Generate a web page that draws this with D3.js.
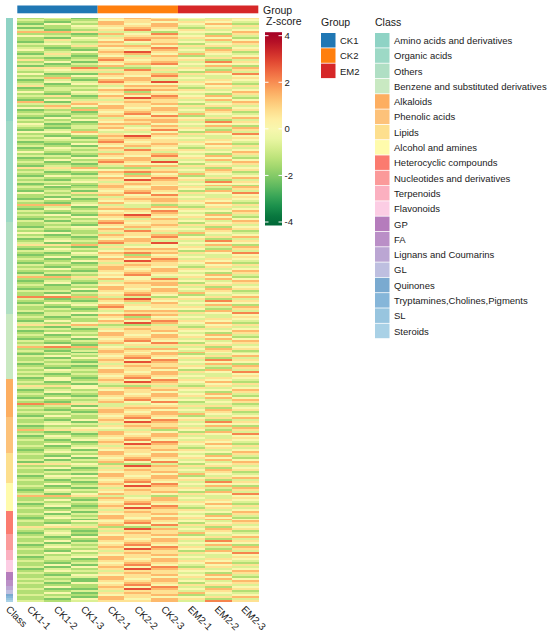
<!DOCTYPE html>
<html><head><meta charset="utf-8">
<script src="https://cdn.jsdelivr.net/npm/d3@7"></script>
<style>
body{margin:0;background:#fff;}
text{font-family:"Liberation Sans",Arial,Helvetica,sans-serif;fill:#1a1a1a;}
</style>
</head><body>
<svg id="chart" width="550" height="639"></svg>
<script>
// ---------- data ----------
const samples = ["CK1-1","CK1-2","CK1-3","CK2-1","CK2-2","CK2-3","EM2-1","EM2-2","EM2-3"];
const groups = ["CK1","CK2","EM2"];
const sampleGroup = ["CK1","CK1","CK1","CK2","CK2","CK2","EM2","EM2","EM2"];
const groupColors = ["#1f77b4","#ff7f0e","#d62728"];

const classNames = ["Amino acids and derivatives","Organic acids","Others","Benzene and substituted derivatives",
  "Alkaloids","Phenolic acids","Lipids","Alcohol and amines","Heterocyclic compounds","Nucleotides and derivatives",
  "Terpenoids","Flavonoids","GP","FA","Lignans and Coumarins","GL","Quinones","Tryptamines,Cholines,Pigments","SL","Steroids"];
const classCounts = [52,51,46,33,19,18,15,14,12,8,5,6,4,3,2,2,1,1,1,1];
const classColors = ["#8fd3c5","#9dd9c6","#b0dfc4","#c9e9c2","#fdae61","#fdc27a","#fddf8e","#fffbac",
  "#fb7b6f","#fb9a9a","#fbb0c0","#fccde4","#b57cbc","#ba8fc7","#bba6d3","#bebfe0","#7aaad0","#86b6d9","#98c5df","#a9d1e6"];

const zTicks = [4,2,0,-2,-4];

// each row: 9 digit codes (one per sample, CK1-1 ... EM2-3); code d -> z-score (d-4)*0.7
const zRows = `
231565435 322456354 213654543 142646462 324556345 123465253 312574534 665332446 221647325 432355463
214566542 253475364 132645436 343536245 225664553 312457324 421546465 234685352 152564643 331436234
212655456 523745523 241556375 313467444 122634362 557223536 345575425 233353263 411656547 224547334
362465435 131663354 243758543 314544462 522366345 133455253 232676534 424524446 213465325 351647463
222586542 143355364 615565436 336456245 264654553 452646324 126556465 231465352 322574643 213647234
142355456 324566523
231456375 412664444 323536362 213645536 132457425 446334263 224546547 312685334 241564435 333655354
122745543 214556462 321465345 143634253 232575534 423353446 212656325 331547463 124465542 242663364
313758436 221544245 132366553 556223324 234455465 312676352 221524643 143465234 322647456 213586523
334355375 122565444 241654362 312646536 223556425 131465263 425574547 232647334 213355435 141566354
322456543 213645462 664332345 231536253 142664534 323457446 212546325 341685463 224564542 132436364
313655436
232745245 221556553 134465324 323634465 212575352 442353643 213656234 321547456 132465523 243663375
312758444 556334362 221544536 143366425 332455263 214676547 123524334 241465435 312647354 224586543
131355462 322565345 213654253 342646534 221556446 133465325 312574463 665443542 223647364 132355436
241566245 313456553 222654324 124646465 331556352 213465643 242574234 776332456 312685523 221564375
143436444 324655362 212745536 231544425 322366263 134455547
231676334 313524435 222465354 142647543 324586462 556223345 213355253 331565534 122456446 243654325
312646463 224556542 131465364 323574436 212647245 341355553 676433324 222566465 313654352 231646643
123556234 342465456 214574523 232647375 321586444 133355362 221565536 312456425 243654263 332646547
213556334 322465435 141574354
242647543 313586462 221355345 554223253 324565534 132456446 243654325 312646463 221556542 143465364
322574436 213647245 765334332 231355553 324566324 212654465 331646352 223556643 142465234
322574456 214647523 231586375 343355444 122565362 234456536 655332425 213654263 321646547 142556334
233465435 314574354 221647543 242586462 313355345 224565253 131456534 243654446
322646325 214556463 241465542 313574364 132647436 554223245 223586553 341355324 212565465 233456352
321654643 144646234 232556456 313465523 221574375
242647444 313586362 221355536 143565425 232456263 314654547 665332334 222646435 241556354 323465543
132574462 241647345 312586253 223355534
241565446 313456325 232654463 143646542 221556364 324465436 212574245 243647553 555223324 322586465
231355352 142565643
231456234 314654456 222646523 241556375 313465444 132574362 243647536 322586425
214355263 242565547 323456334 134654435 231646354
322556543 213465462 241574345 314647253 132586534 243355446
322565325 214456463 233654542 321646364
231556436 314465245 222574553
242647324 311586465
223355352 241565643
322456234
231654456
214646523
323556375
`.trim().split(/\s+/);

// ---------- drawing ----------
const svg = d3.select("#chart");
const zOf = d => (+d - 4) * 0.7;

const x = d3.scaleBand().domain(samples).range([17.3, 258.3]);
const y = d3.scaleBand().domain(d3.range(zRows.length)).range([17.5, 602]);
const color = d3.scaleSequential(d3.interpolateRdYlGn).domain([4, -4]).clamp(true);

// heatmap cells
const cells = [];
zRows.forEach((r, i) => samples.forEach((s, j) => cells.push({i, s, z: zOf(r[j])})));
svg.append("g").attr("shape-rendering", "crispEdges")
  .selectAll("rect").data(cells).join("rect")
  .attr("x", d => x(d.s)).attr("y", d => y(d.i))
  .attr("width", x.bandwidth() + 0.3).attr("height", y.bandwidth() + 0.3)
  .attr("fill", d => color(d.z));

// group annotation bar
const gColor = d3.scaleOrdinal().domain(groups).range(groupColors);
svg.append("g").selectAll("rect").data(groups).join("rect")
  .attr("x", g => x(samples[sampleGroup.indexOf(g)]))
  .attr("width", g => x.bandwidth() * sampleGroup.filter(s => s === g).length)
  .attr("y", 5.5).attr("height", 7.8)
  .attr("fill", gColor);
svg.append("text").attr("x", 263).attr("y", 13.5).attr("font-size", 10.5).text("Group");

// class annotation bar
const cColor = d3.scaleOrdinal().domain(classNames).range(classColors);
const starts = d3.cumsum([0, ...classCounts]);
svg.append("g").attr("shape-rendering", "crispEdges").selectAll("rect").data(classNames).join("rect")
  .attr("x", 5.5).attr("width", 7.8)
  .attr("y", (c, k) => y(starts[k]))
  .attr("height", (c, k) => y.bandwidth() * classCounts[k] + 0.3)
  .attr("fill", cColor);

// bottom labels
const labY = 605;
const labs = [{t: "Class", cx: 9.4}, ...samples.map(s => ({t: s, cx: x(s) + x.bandwidth() / 2}))];
svg.append("g").selectAll("text").data(labs).join("text")
  .attr("transform", d => `translate(${d.cx + 1},${labY}) rotate(45)`)
  .attr("dy", "0.72em").attr("font-size", 10).text(d => d.t);

// Z-score colorbar
svg.append("text").attr("x", 266).attr("y", 25).attr("font-size", 10.5).text("Z-score");
const cb = d3.scaleLinear().domain([4, -4]).range([35.7, 222]);
const defs = svg.append("defs");
const grad = defs.append("linearGradient").attr("id", "zgrad")
  .attr("x1", 0).attr("x2", 0).attr("y1", 0).attr("y2", 1);
const cbTop = cb(4.15), cbBot = cb(-4.15);
d3.range(0, 1.0001, 0.05).forEach(t => {
  const v = cb.invert(cbTop + t * (cbBot - cbTop));
  grad.append("stop").attr("offset", t).attr("stop-color", color(v));
});
svg.append("rect").attr("x", 265).attr("y", cbTop).attr("width", 17).attr("height", cbBot - cbTop)
  .attr("fill", "url(#zgrad)");
const tk = svg.append("g").selectAll("g").data(zTicks).join("g")
  .attr("transform", d => `translate(0,${cb(d)})`);
tk.append("line").attr("x1", 265).attr("x2", 268.5).attr("stroke", "#fff").attr("stroke-width", 1);
tk.append("line").attr("x1", 278.5).attr("x2", 282).attr("stroke", "#fff").attr("stroke-width", 1);
tk.append("text").attr("x", 284.5).attr("dy", "0.35em").attr("font-size", 9.5).text(d => d);

// Group legend
const step = 15.3;
svg.append("text").attr("x", 321).attr("y", 26).attr("font-size", 10.5).text("Group");
const gl = svg.append("g").selectAll("g").data(groups).join("g")
  .attr("transform", (d, k) => `translate(321,${33 + k * step})`);
gl.append("rect").attr("width", 14.5).attr("height", step - 0.8).attr("fill", gColor);
gl.append("text").attr("x", 19).attr("y", step / 2).attr("dy", "0.35em").attr("font-size", 9.5).text(d => d);

// Class legend
svg.append("text").attr("x", 375).attr("y", 26).attr("font-size", 10.5).text("Class");
const cl = svg.append("g").selectAll("g").data(classNames).join("g")
  .attr("transform", (d, k) => `translate(375,${33 + k * step})`);
cl.append("rect").attr("width", 14.5).attr("height", step - 0.8).attr("fill", cColor);
cl.append("text").attr("x", 19).attr("y", step / 2).attr("dy", "0.35em").attr("font-size", 9.5).text(d => d);
</script>
</body></html>
